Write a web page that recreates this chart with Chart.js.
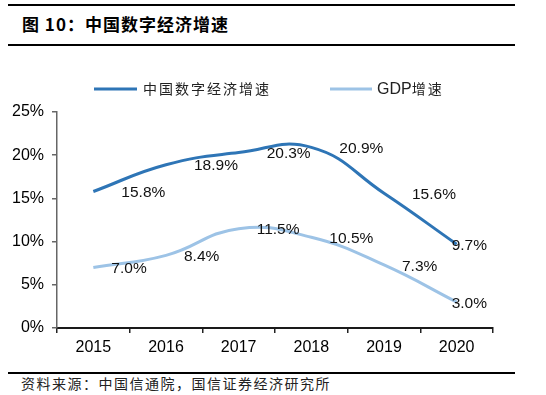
<!DOCTYPE html>
<html>
<head>
<meta charset="utf-8">
<script src="https://cdn.jsdelivr.net/npm/chart.js@4.4.1/dist/chart.umd.min.js"></script>
<style>
body { margin: 0; background: #fff; width: 546px; height: 395px; position: relative; overflow: hidden; }
.rule { position: absolute; left: 8px; width: 507px; height: 2px; background: #000; }
#title { position: absolute; left: 22px; top: 14px; font: bold 17px "Noto Sans CJK SC", sans-serif; letter-spacing: 1px; line-height: 20px; color: #000; }
#chartBox { position: absolute; left: 0; top: 46px; width: 546px; height: 326px; }
#source { position: absolute; left: 21px; top: 375px; font: 14px "Noto Sans CJK SC", sans-serif; letter-spacing: 1.5px; line-height: 16px; color: #222; }
</style>
</head>
<body>
<div class="rule" style="top:4px"></div>
<div id="title">图 10：中国数字经济增速</div>
<div class="rule" style="top:44px"></div>
<div id="chartBox"><canvas id="growthChart" width="546" height="326"></canvas></div>
<div class="rule" style="top:372px"></div>
<div id="source">资料来源：中国信通院，国信证券经济研究所</div>

<script>
// Chart data
const years = ["2015", "2016", "2017", "2018", "2019", "2020"];
const digitalGrowth = [15.8, 18.9, 20.3, 20.9, 15.6, 9.7];
const gdpGrowth = [7.0, 8.4, 11.5, 10.5, 7.3, 3.0];
const seriesNames = ["中国数字经济增速", "GDP增速"];
const yMax = 25;
const yStep = 5;

const NUM_FONT = '"Liberation Sans", Arial, sans-serif';
const CJK_FONT = '"Noto Sans CJK SC", sans-serif';

// Legend drawn above the plot (line + label), latin and CJK parts in their own fonts
const legendPlugin = {
    id: "lineLegend",
    afterDraw(chart) {
        const ctx = chart.ctx;
        const y = chart.chartArea.top - 23;
        const items = [
            { x1: 94, x2: 137, tx: 143 },
            { x1: 330, x2: 372, tx: 377 }
        ];
        ctx.save();
        chart.data.datasets.forEach((ds, i) => {
            const it = items[i];
            ctx.strokeStyle = ds.borderColor;
            ctx.lineWidth = 3;
            ctx.beginPath();
            ctx.moveTo(it.x1, y);
            ctx.lineTo(it.x2, y);
            ctx.stroke();

            ctx.fillStyle = "#222";
            ctx.textBaseline = "middle";
            let x = it.tx;
            for (const ch of ds.label) {
                const latin = ch.charCodeAt(0) < 128;
                ctx.font = latin ? "16px " + NUM_FONT : "14px " + CJK_FONT;
                ctx.fillText(ch, x, y + (latin ? 1 : 0));
                x += ctx.measureText(ch).width + (latin ? 0 : 2);
            }
        });
        ctx.restore();
    }
};

// Value labels to the right of each point
const valueLabelPlugin = {
    id: "valueLabels",
    afterDatasetsDraw(chart) {
        const ctx = chart.ctx;
        const right = chart.chartArea.right;
        ctx.save();
        ctx.font = "15.5px " + NUM_FONT;
        ctx.fillStyle = "#111";
        ctx.textAlign = "left";
        ctx.textBaseline = "middle";
        chart.data.datasets.forEach((ds, i) => {
            const meta = chart.getDatasetMeta(i);
            meta.data.forEach((pt, j) => {
                const text = ds.data[j].toFixed(1) + "%";
                const w = ctx.measureText(text).width;
                const x = Math.min(pt.x + ds.labelOffset, right - 6 - w);
                ctx.fillText(text, x, pt.y + 1.5);
            });
        });
        ctx.restore();
    }
};

new Chart(document.getElementById("growthChart"), {
    type: "line",
    data: {
        labels: years,
        datasets: [
            {
                label: seriesNames[0],
                data: digitalGrowth,
                borderColor: "#2E75B6",
                borderWidth: 3,
                tension: 0.45,
                pointRadius: 0,
                fill: false,
                labelOffset: 28
            },
            {
                label: seriesNames[1],
                data: gdpGrowth,
                borderColor: "#9DC3E6",
                borderWidth: 3,
                tension: 0.45,
                pointRadius: 0,
                fill: false,
                labelOffset: 18
            }
        ]
    },
    options: {
        responsive: false,
        animation: false,
        layout: { padding: { left: 0, right: 53, top: 66, bottom: 14 } },
        plugins: {
            legend: { display: false },
            tooltip: { enabled: false }
        },
        scales: {
            x: {
                offset: true,
                grid: { offset: true, drawOnChartArea: false, drawTicks: true, tickLength: 5, color: "#222", lineWidth: 1.5 },
                border: { color: "#1a1a1a", width: 2 },
                ticks: { font: { family: NUM_FONT, size: 16 }, color: "#000", padding: 5 },
                afterFit(scale) { scale.height = 30; }
            },
            y: {
                min: 0,
                max: yMax,
                grid: { drawOnChartArea: false, drawTicks: true, tickLength: 5, color: "#666", lineWidth: 1.5 },
                border: { color: "#666", width: 1.5 },
                ticks: {
                    stepSize: yStep,
                    font: { family: NUM_FONT, size: 16 },
                    color: "#000",
                    padding: 8,
                    callback: v => v + "%"
                },
                afterFit(scale) { scale.width = 57; }
            }
        }
    },
    plugins: [legendPlugin, valueLabelPlugin]
});
</script>
</body>
</html>
